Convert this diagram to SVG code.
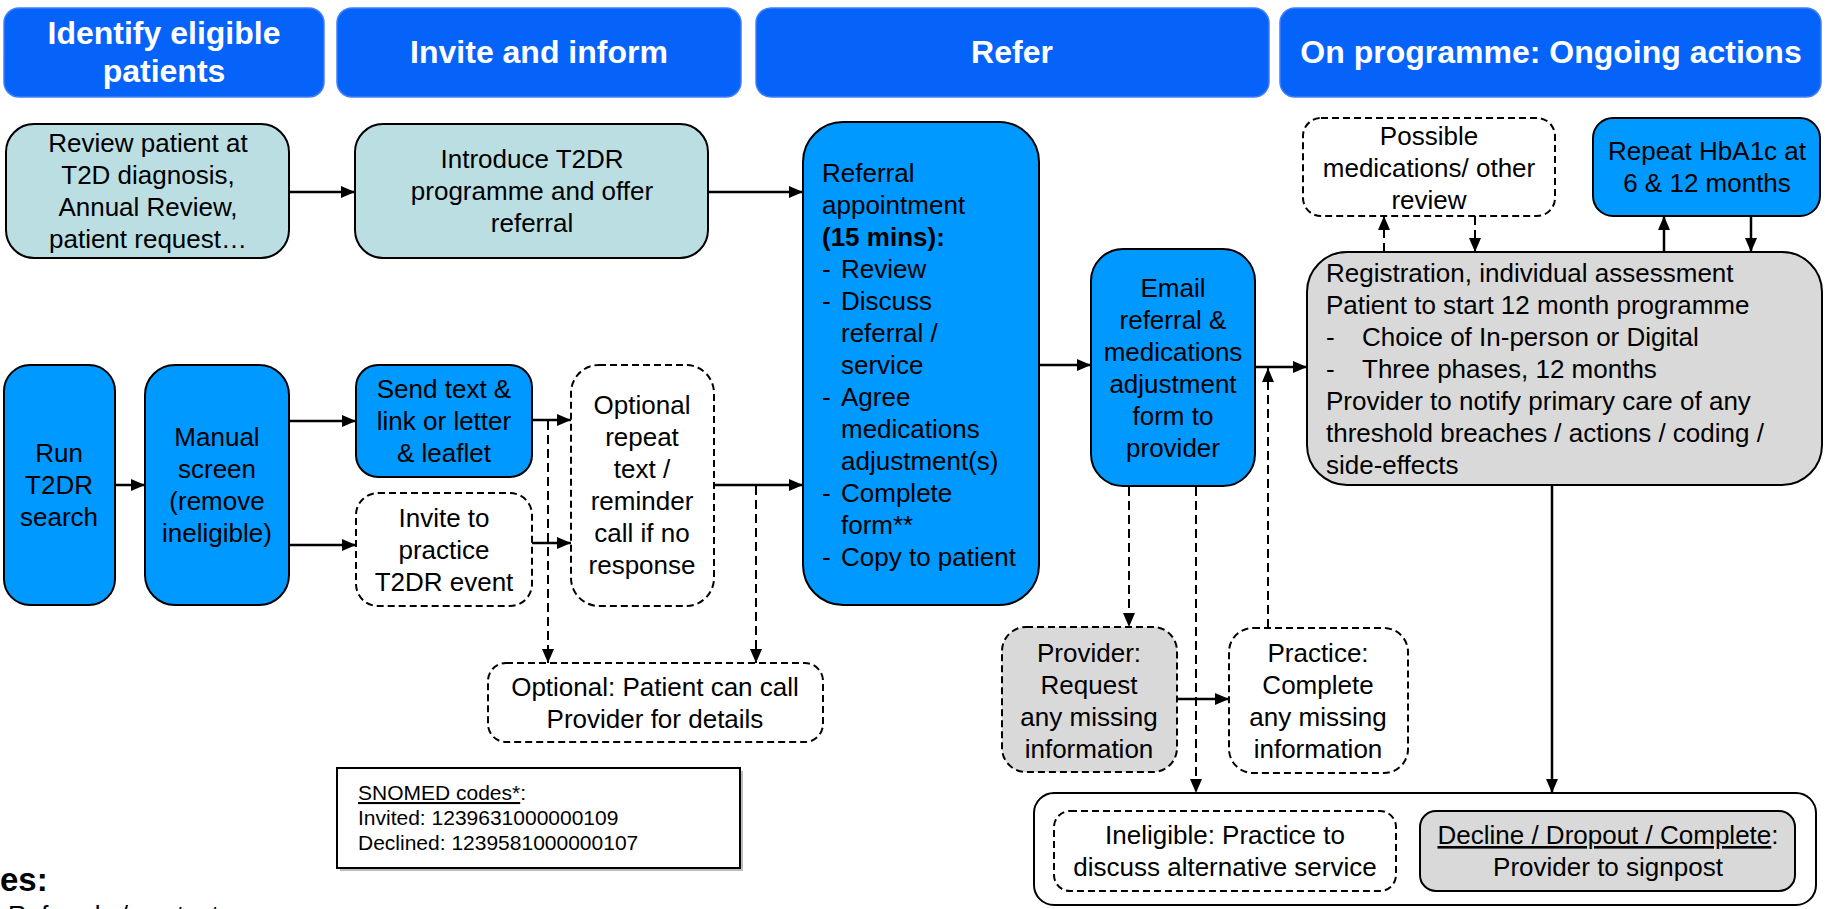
<svg xmlns="http://www.w3.org/2000/svg" width="1825" height="909" viewBox="0 0 1825 909">
<style>
text{font-family:"Liberation Sans",Arial,sans-serif;fill:#000}
.t{font-size:26px}
.c{text-anchor:middle}
.h{font-size:32px;font-weight:bold;fill:#fff;text-anchor:middle}
.hdr{fill:#0563fa;stroke:#3f7dff;stroke-width:1.5}
.blue{fill:#0099ff;stroke:#000;stroke-width:2}
.teal{fill:#badee2;stroke:#000;stroke-width:2}
.grey{fill:#d9d9d9;stroke:#000;stroke-width:2}
.dash{fill:#fff;stroke:#000;stroke-width:2;stroke-dasharray:7 4}
.dashg{fill:#d9d9d9;stroke:#000;stroke-width:2;stroke-dasharray:7 4}
.plain{fill:#fff;stroke:#000;stroke-width:2}
.ln{fill:none;stroke:#000;stroke-width:2.5;marker-end:url(#ah)}
.dl{fill:none;stroke:#000;stroke-width:2;stroke-dasharray:9 5;marker-end:url(#ah)}
.s{font-size:21px}
</style>
<defs>
<marker id="ah" markerUnits="userSpaceOnUse" viewBox="0 0 14 12" markerWidth="14" markerHeight="12" refX="14" refY="6" orient="auto">
<path d="M0,0 L14,6 L0,12 z" fill="#000"/>
</marker>
</defs>

<g id="hdr-identify"><rect class="hdr" x="4" y="8" width="320" height="89" rx="15"/>
<text class="h" x="164" y="44">Identify eligible</text><text class="h" x="164" y="82">patients</text></g>
<g id="hdr-invite"><rect class="hdr" x="337" y="8" width="404" height="89" rx="15"/>
<text class="h" x="539" y="63">Invite and inform</text></g>
<g id="hdr-refer"><rect class="hdr" x="756" y="8" width="513" height="89" rx="15"/>
<text class="h" x="1012" y="63">Refer</text></g>
<g id="hdr-onprog"><rect class="hdr" x="1280" y="8" width="541" height="89" rx="15"/>
<text class="h" x="1551" y="63">On programme: Ongoing actions</text></g>

<g id="review"><rect class="teal" x="6" y="124" width="283" height="134" rx="28"/>
<text class="t c" x="148" y="152">Review patient at</text><text class="t c" x="148" y="184">T2D diagnosis,</text>
<text class="t c" x="148" y="216">Annual Review,</text><text class="t c" x="148" y="248">patient request…</text></g>

<g id="introduce"><rect class="teal" x="355" y="124" width="353" height="134" rx="28"/>
<text class="t c" x="532" y="168">Introduce T2DR</text><text class="t c" x="532" y="200">programme and offer</text>
<text class="t c" x="532" y="232">referral</text></g>

<g id="run"><rect class="blue" x="4" y="365" width="111" height="240" rx="26"/>
<text class="t c" x="59" y="462">Run</text><text class="t c" x="59" y="494">T2DR</text><text class="t c" x="59" y="526">search</text></g>

<g id="manual"><rect class="blue" x="145" y="365" width="144" height="240" rx="30"/>
<text class="t c" x="217" y="446">Manual</text><text class="t c" x="217" y="478">screen</text>
<text class="t c" x="217" y="510">(remove</text><text class="t c" x="217" y="542">ineligible)</text></g>

<g id="sendtext"><rect class="blue" x="356" y="365" width="176" height="112" rx="22"/>
<text class="t c" x="444" y="398">Send text &amp;</text><text class="t c" x="444" y="430">link or letter</text>
<text class="t c" x="444" y="462">&amp; leaflet</text></g>

<g id="inviteevent"><rect class="dash" x="356" y="493" width="176" height="113" rx="22"/>
<text class="t c" x="444" y="527">Invite to</text><text class="t c" x="444" y="559">practice</text>
<text class="t c" x="444" y="591">T2DR event</text></g>

<g id="optrepeat"><rect class="dash" x="571" y="365" width="143" height="241" rx="28"/>
<text class="t c" x="642" y="414">Optional</text><text class="t c" x="642" y="446">repeat</text>
<text class="t c" x="642" y="478">text /</text><text class="t c" x="642" y="510">reminder</text>
<text class="t c" x="642" y="542">call if no</text><text class="t c" x="642" y="574">response</text></g>

<g id="optcall"><rect class="dash" x="488" y="663" width="335" height="79" rx="18"/>
<text class="t c" x="655" y="696">Optional: Patient can call</text><text class="t c" x="655" y="728">Provider for details</text></g>

<g id="snomed"><rect x="340" y="771" width="403" height="100" fill="#bdbdbd"/>
<rect x="337" y="768" width="403" height="100" fill="#fff" stroke="#000" stroke-width="2"/>
<text class="s" x="358" y="800"><tspan text-decoration="underline">SNOMED codes*</tspan>:</text>
<text class="s" x="358" y="825">Invited: 1239631000000109</text>
<text class="s" x="358" y="850">Declined: 1239581000000107</text></g>

<g id="referral"><rect class="blue" x="803" y="122" width="236" height="483" rx="40"/>
<text class="t" x="822" y="182">Referral</text>
<text class="t" x="822" y="214">appointment</text>
<text class="t" x="822" y="246" font-weight="bold">(15 mins):</text>
<text class="t" x="822" y="278">-</text><text class="t" x="841" y="278">Review</text>
<text class="t" x="822" y="310">-</text><text class="t" x="841" y="310">Discuss</text>
<text class="t" x="841" y="342">referral /</text>
<text class="t" x="841" y="374">service</text>
<text class="t" x="822" y="406">-</text><text class="t" x="841" y="406">Agree</text>
<text class="t" x="841" y="438">medications</text>
<text class="t" x="841" y="470">adjustment(s)</text>
<text class="t" x="822" y="502">-</text><text class="t" x="841" y="502">Complete</text>
<text class="t" x="841" y="534">form**</text>
<text class="t" x="822" y="566">-</text><text class="t" x="841" y="566">Copy to patient</text></g>

<g id="email"><rect class="blue" x="1091" y="249" width="164" height="237" rx="32"/>
<text class="t c" x="1173" y="297">Email</text><text class="t c" x="1173" y="329">referral &amp;</text>
<text class="t c" x="1173" y="361">medications</text><text class="t c" x="1173" y="393">adjustment</text>
<text class="t c" x="1173" y="425">form to</text><text class="t c" x="1173" y="457">provider</text></g>

<g id="provider"><rect class="dashg" x="1002" y="627" width="175" height="145" rx="24"/>
<text class="t c" x="1089" y="662">Provider:</text><text class="t c" x="1089" y="694">Request</text>
<text class="t c" x="1089" y="726">any missing</text><text class="t c" x="1089" y="758">information</text></g>

<g id="practice"><rect class="dash" x="1229" y="628" width="179" height="145" rx="24"/>
<text class="t c" x="1318" y="662">Practice:</text><text class="t c" x="1318" y="694">Complete</text>
<text class="t c" x="1318" y="726">any missing</text><text class="t c" x="1318" y="758">information</text></g>

<g id="possible"><rect class="dash" x="1303" y="118" width="252" height="98" rx="18"/>
<text class="t c" x="1429" y="145">Possible</text><text class="t c" x="1429" y="177">medications/ other</text>
<text class="t c" x="1429" y="209">review</text></g>

<g id="hba1c"><rect class="blue" x="1593" y="118" width="227" height="98" rx="20"/>
<text class="t c" x="1707" y="160">Repeat HbA1c at</text><text class="t c" x="1707" y="192">6 &amp; 12 months</text></g>

<g id="registration"><rect class="grey" x="1307" y="252" width="515" height="233" rx="40"/>
<text class="t" x="1326" y="282">Registration, individual assessment</text>
<text class="t" x="1326" y="314">Patient to start 12 month programme</text>
<text class="t" x="1326" y="346">-</text><text class="t" x="1362" y="346">Choice of In-person or Digital</text>
<text class="t" x="1326" y="378">-</text><text class="t" x="1362" y="378">Three phases, 12 months</text>
<text class="t" x="1326" y="410">Provider to notify primary care of any</text>
<text class="t" x="1326" y="442">threshold breaches / actions / coding /</text>
<text class="t" x="1326" y="474">side-effects</text></g>

<g id="outcomes"><rect class="plain" x="1034" y="793" width="782" height="112" rx="20"/>
<g id="ineligible"><rect class="dash" x="1054" y="811" width="342" height="80" rx="16"/>
<text class="t c" x="1225" y="844">Ineligible: Practice to</text><text class="t c" x="1225" y="876">discuss alternative service</text></g>
<g id="decline"><rect class="grey" x="1420" y="811" width="375" height="80" rx="16"/>
<text class="t c" x="1608" y="844"><tspan text-decoration="underline">Decline / Dropout / Complete</tspan>:</text>
<text class="t c" x="1608" y="876">Provider to signpost</text></g></g>

<g id="notes">
<text x="0" y="891" font-size="33" font-weight="bold">es:</text>
<text class="t" x="8" y="924">Referrals / contact</text>
</g>

<g id="connectors">
<path class="ln" d="M289,192 H355"/>
<path class="ln" d="M708,192 H803"/>
<path class="ln" d="M115,485 H145"/>
<path class="ln" d="M289,421 H356"/>
<path class="ln" d="M289,545 H356"/>
<path class="ln" d="M532,420 H571"/>
<path class="ln" d="M532,543 H571"/>
<path class="ln" d="M714,485 H803"/>
<path class="dl" d="M548,421 V663"/>
<path class="dl" d="M756,486 V663"/>
<path class="ln" d="M1039,365 H1091"/>
<path class="ln" d="M1255,367 H1307"/>
<path class="dl" d="M1129,487 V627"/>
<path class="dl" d="M1196,487 V793"/>
<path class="ln" d="M1177,699 H1229"/>
<path class="dl" d="M1268,628 V368"/>
<path class="ln" d="M1552,485 V793" stroke-width="2"/>
<path class="dl" d="M1384,252 V216"/>
<path class="dl" d="M1475,216 V252"/>
<path class="ln" d="M1664,252 V216"/>
<path class="ln" d="M1751,216 V252"/>
</g>
</svg>
